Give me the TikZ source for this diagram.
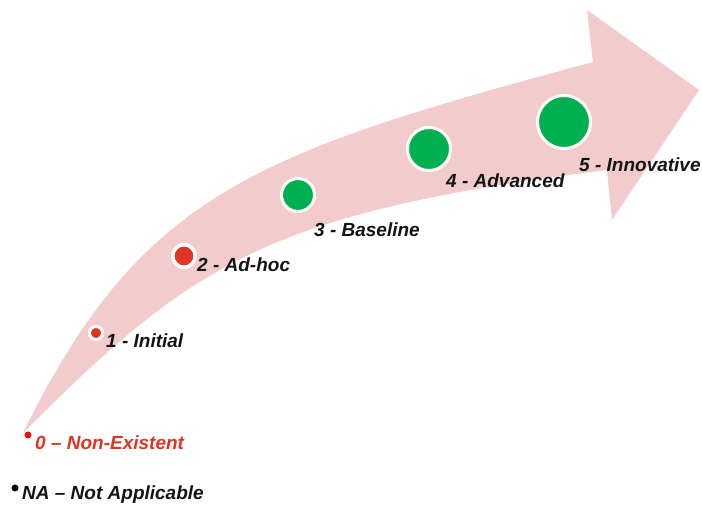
\documentclass[tikz,border=0pt]{standalone}
\usepackage{fontspec}
\setmainfont{Liberation Sans}
\definecolor{arrowpink}{RGB}{242,204,204}
\definecolor{lvlred}{RGB}{224,52,36}
\definecolor{lvlgreen}{RGB}{0,176,80}
\definecolor{dotred}{RGB}{250,10,10}
\definecolor{txt}{RGB}{20,20,20}
\begin{document}
\begin{tikzpicture}[x=1pt,y=-1pt,
  lbl/.style={anchor=base west,inner sep=0pt,font=\fontsize{19}{21}\selectfont\bfseries\itshape,text=txt},
  lvl/.style={circle,draw=white,line width=3pt,inner sep=0pt,minimum size=#1},
  reddot/.style={lvl=#1,fill=lvlred},
  greendot/.style={lvl=#1,fill=lvlgreen},
  smalldot/.style={circle,inner sep=0pt,minimum size=7pt,fill=#1}]
\useasboundingbox (0,0) rectangle (702,510);
% the arrow
\fill[arrowpink] (23,433) .. controls (141,193) and (255,153) .. (593,62)
  -- (587,10) -- (699,90) -- (612,220) -- (607,170)
  .. controls (267,212.5) and (193,263) .. (23,433) -- cycle;
% level circles
\node[reddot=13pt] (c1) at (96,333) {};
\node[reddot=22.5pt,line width=3.5pt] (c2) at (184,256) {};
\node[greendot=33pt] (c3) at (298,195) {};
\node[greendot=43pt] (c4) at (429,149) {};
\node[greendot=53pt] (c5) at (564,122) {};
% labels
\node[lbl] (l1) at (106,348) {1 - Initial};
\node[lbl] (l2) at (197,272) {2 - Ad-hoc};
\node[lbl] (l3) at (314,237) {3 - Baseline};
\node[lbl] (l4) at (446,188) {4 - Advanced};
\node[lbl] (l5) at (579,172) {5 - Innovative};
% legend
\node[smalldot=dotred] (d0) at (28,435) {};
\node[lbl,text=lvlred] (l0) at (35,450) {0 – Non-Existent};
\node[smalldot=black] (dna) at (15,488) {};
\node[lbl] (lna) at (22,500) {NA – Not Applicable};
\end{tikzpicture}
\end{document}
